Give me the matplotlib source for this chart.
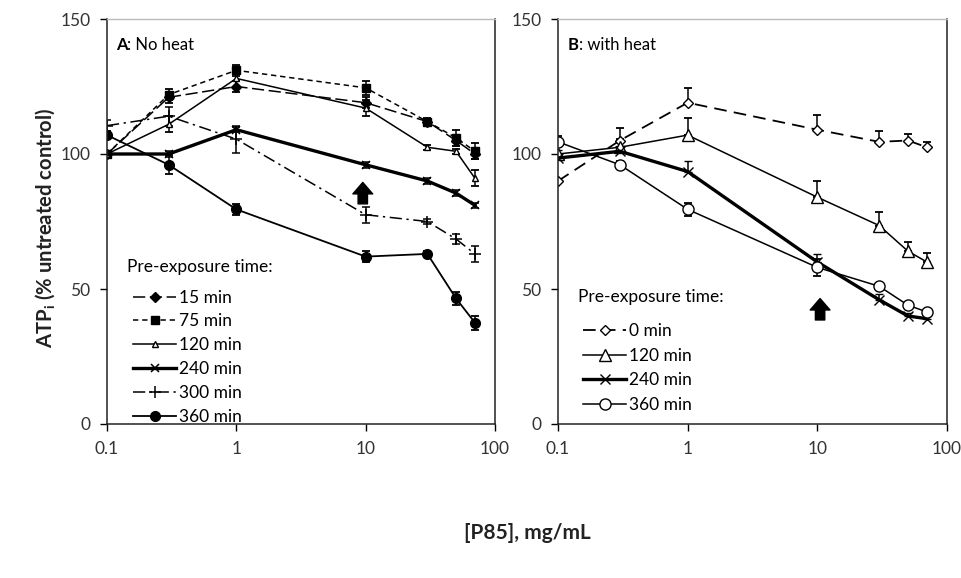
import matplotlib
matplotlib.use("Agg")
import matplotlib.pyplot as plt
import numpy as np

plt.rcParams['font.family'] = ['Lato', 'DejaVu Sans']

conc = [0.1, 0.3, 1, 10, 30, 50, 70]

# Panel A: no heat
a_labels = ["15 min", "75 min", "120 min", "240 min", "300 min", "360 min"]
a_15 = [100, 121, 125, 119, 112, 105, 100]
a_75 = [100, 122, 131, 124.5, 112, 106, 101]
a_120 = [100, 111, 128, 117, 102.5, 101, 91]
a_240 = [100, 100, 109, 96, 90, 85.5, 81]
a_300 = [110.5, 114, 105.5, 77.5, 75, 68.5, 63]
a_360 = [107, 96, 79.5, 62, 63, 46.5, 37.5]
a_err15 = [1, 2, 2, 2, 1, 2, 2]
a_err75 = [1, 2, 2, 2.5, 1.5, 3, 3]
a_err120 = [1, 3, 3, 3, 1, 1, 3]
a_err240 = [1, 1, 1, 1, 1, 1, 1]
a_err300 = [2, 3.5, 5, 3, 1, 2, 3]
a_err360 = [1.5, 3.5, 2, 2, 1, 2.5, 2.5]

# Panel B: with heat
b_labels = ["0 min", "120 min", "240 min", "360 min"]
b_0 = [90, 105, 119, 109, 104.5, 105, 102.5]
b_120 = [100, 102.5, 107, 84, 73.5, 64, 60]
b_240 = [98.5, 101, 93.5, 60, 46, 40, 39]
b_360 = [104.5, 96, 79.5, 58, 51, 44, 41.5]
b_err0 = [0, 4.5, 5.5, 5.5, 4, 2.5, 2]
b_err120 = [0, 3, 6.5, 6, 5, 3.5, 3.5]
b_err240 = [3, 2, 4, 3, 2, 1, 1]
b_err360 = [2, 1.5, 2.5, 3, 1, 1, 1]

FS = 12.5

fig = plt.figure(figsize=(9.61, 5.78), dpi=100)
axA = fig.add_axes([107/961, 1-424/578, 388/961, 405/578])
axB = fig.add_axes([558/961, 1-424/578, 389/961, 405/578])

def style_axes(ax):
    ax.set_xscale('log')
    ax.set_xlim(0.1, 100)
    ax.set_ylim(0, 150)
    ax.set_yticks([0, 50, 100, 150])
    ax.set_xticks([0.1, 1, 10, 100])
    ax.set_xticklabels(["0.1", "1", "10", "100"])
    ax.minorticks_off()
    ax.tick_params(axis='both', direction='out', length=5, width=1,
                   labelsize=FS, labelcolor='#333333', pad=7)
    for s in ['left', 'bottom', 'right']:
        ax.spines[s].set_color('#222222')
        ax.spines[s].set_linewidth(1.1)
    ax.spines['top'].set_color('#bbbbbb')
    ax.spines['top'].set_linewidth(1.0)

style_axes(axA)
style_axes(axB)

ek = dict(ecolor='black', elinewidth=1.1, capsize=3, capthick=1.3)

# Panel A series
cA = []
cA.append(axA.errorbar(conc, a_15, yerr=a_err15, color='black', lw=1.1, ls=(0, (8, 3)),
                       marker='D', ms=5, mfc='black', **ek))
cA.append(axA.errorbar(conc, a_75, yerr=a_err75, color='black', lw=1.1, ls=(0, (3.5, 2.5)),
                       marker='s', ms=6, mfc='black', **ek))
cA.append(axA.errorbar(conc, a_120, yerr=a_err120, color='black', lw=1.1, ls='-',
                       marker='^', ms=5, mfc='white', **ek))
cA.append(axA.errorbar(conc, a_240, yerr=a_err240, color='black', lw=2.4, ls='-',
                       marker='x', ms=6, mew=1.1, **ek))
cA.append(axA.errorbar(conc, a_300, yerr=a_err300, color='black', lw=1.1,
                       ls=(0, (8, 3, 1.5, 3)), marker='+', ms=8, mew=1.1, **ek))
cA.append(axA.errorbar(conc, a_360, yerr=a_err360, color='black', lw=1.3, ls='-',
                       marker='o', ms=7, mfc='black', **ek))

# Panel B series (mostly upper error bars)
zeros = [0] * len(conc)
cB = []
cB.append(axB.errorbar(conc, b_0, yerr=[zeros, b_err0], color='black', lw=1.3,
                       ls=(0, (7, 4)), marker='D', ms=5.5, mfc='white', **ek))
cB.append(axB.errorbar(conc, b_120, yerr=[zeros, b_err120], color='black', lw=1.1, ls='-',
                       marker='^', ms=8, mfc='white', **ek))
cB.append(axB.errorbar(conc, b_240, yerr=[zeros, b_err240], color='black', lw=2.4, ls='-',
                       marker='x', ms=7, mew=1.0, **ek))
cB.append(axB.errorbar(conc, b_360, yerr=b_err360, color='black', lw=1.1, ls='-',
                       marker='o', ms=8, mfc='white', **ek))

# Panel titles (bold letter + regular text)
fig.canvas.draw()
for ax, letter, rest, x0 in [(axA, "A", ": No heat", 0.023), (axB, "B", ": with heat", 0.026)]:
    t = ax.text(x0, 0.936, letter, transform=ax.transAxes, fontsize=FS - 0.5,
                fontweight='bold', ha='left', va='center')
    fig.canvas.draw()
    bb = t.get_window_extent().transformed(ax.transAxes.inverted())
    ax.text(bb.x1, 0.936, rest, transform=ax.transAxes, fontsize=FS - 0.5,
            ha='left', va='center')

# Arrows
arrow_kw = dict(arrowstyle="simple,head_length=0.55,head_width=0.95,tail_width=0.45",
                fc='black', ec='black', mutation_scale=15)
axA.annotate('', xy=(9.5, 90.5), xytext=(9.5, 80.5), arrowprops=arrow_kw)
axB.annotate('', xy=(10.5, 47.5), xytext=(10.5, 37.5), arrowprops=arrow_kw)

# Legends
axA.text(0.0515, 0.388, "Pre-exposure time:", transform=axA.transAxes,
         fontsize=FS, ha='left', va='center')
axA.legend([c.lines[0] for c in cA], a_labels, loc='upper left',
           bbox_to_anchor=(0.049, 0.349), frameon=False, fontsize=FS,
           handlelength=2.5, handletextpad=0.17, labelspacing=0.45,
           borderaxespad=0)
axB.text(0.051, 0.314, "Pre-exposure time:", transform=axB.transAxes,
         fontsize=FS, ha='left', va='center')
axB.legend([c.lines[0] for c in cB], b_labels, loc='upper left',
           bbox_to_anchor=(0.046, 0.266), frameon=False, fontsize=FS,
           handlelength=2.5, handletextpad=0.17, labelspacing=0.49,
           borderaxespad=0)

fig.text(45/961, 1-228/578, r"ATP$_\mathregular{i}$ (% untreated control)", rotation=90,
         fontsize=14.6, fontweight='bold', ha='center', va='center', color='#222222')
fig.text(527/961, 1-533/578, "[P85], mg/mL", fontsize=15, fontweight='bold',
         ha='center', va='center', color='#222222')

fig.savefig("out.png", dpi=100)
